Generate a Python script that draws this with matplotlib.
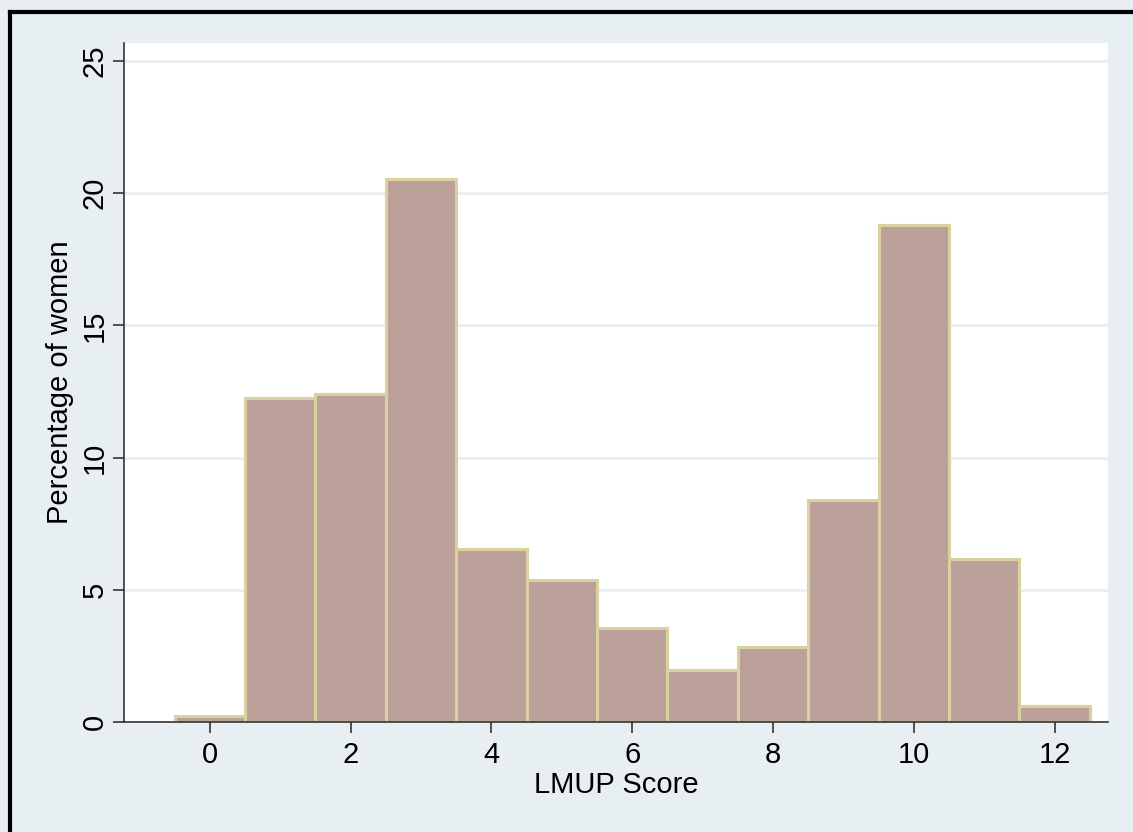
import numpy as np
import matplotlib.pyplot as plt
from matplotlib.lines import Line2D

plt.rcParams['font.family'] = ['Liberation Sans', 'DejaVu Sans']

# LMUP score histogram data
scores = [0, 1, 2, 3, 4, 5, 6, 7, 8, 9, 10, 11, 12]
percent = [0.22, 12.25, 12.4, 20.55, 6.55, 5.38, 3.55, 1.97, 2.85, 8.38, 18.78, 6.15, 0.6]
x_ticks = [0, 2, 4, 6, 8, 10, 12]
y_ticks = [0, 5, 10, 15, 20, 25]

bg = '#e8eff2'
fig = plt.figure(figsize=(11.33, 8.32), dpi=100, facecolor=bg)
ax = fig.add_axes([0.1094, 0.1322, 0.8686, 0.8161])
ax.set_facecolor('white')

ax.bar(scores, percent, width=1.0, color='#bca19a', edgecolor='#d9d19f', linewidth=2.2, zorder=3)

ax.set_xlim(-1.22, 12.76)
ax.set_ylim(0, 25.68)
ax.set_xticks(x_ticks)
ax.set_yticks(y_ticks)
ax.set_yticklabels([str(v) for v in y_ticks], rotation=90, va='center')
ax.tick_params(axis='both', direction='out', length=8, width=1.2, color='#333333',
               labelsize=21)
ax.tick_params(axis='x', pad=6)
ax.tick_params(axis='y', pad=3)
ax.yaxis.grid(True, color=bg, linewidth=2, zorder=0)
for s in ['top', 'right']:
    ax.spines[s].set_visible(False)
for s in ['left', 'bottom']:
    ax.spines[s].set_color('#333333')
    ax.spines[s].set_linewidth(1.2)
ax.spines['bottom'].set_zorder(4)

ax.set_xlabel('LMUP Score', fontsize=21, labelpad=1)
ax.set_ylabel('Percentage of women', fontsize=21, labelpad=5)

# black frame at left and top edges
fig.add_artist(Line2D([0.0085, 0.0085], [0, 0.986], transform=fig.transFigure, color='black', linewidth=3))
fig.add_artist(Line2D([0.0085, 1], [0.986, 0.986], transform=fig.transFigure, color='black', linewidth=3))

fig.savefig('out.png', dpi=100, facecolor=bg)
